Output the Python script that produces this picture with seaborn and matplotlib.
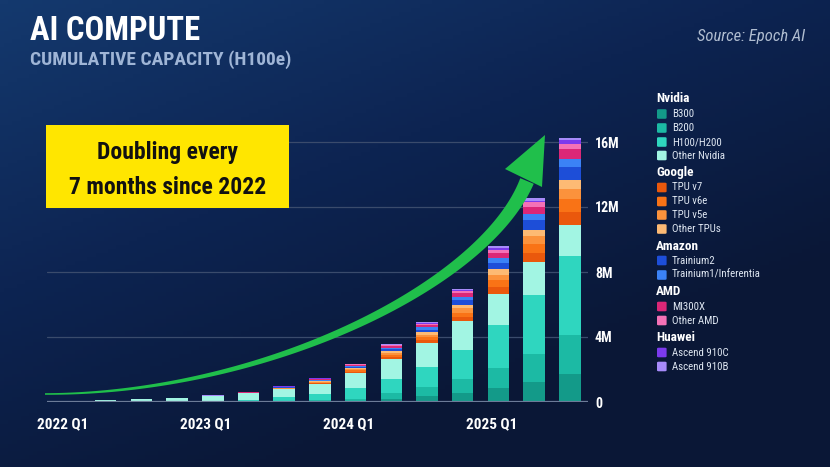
import numpy as np
import pandas as pd
import matplotlib
matplotlib.use("Agg")
import matplotlib.pyplot as plt
from matplotlib.patches import Polygon, Rectangle, FancyBboxPatch
from matplotlib.colors import LinearSegmentedColormap
import seaborn as sns

# ---- data (millions of H100-equivalents, cumulative) ----
quarters = ["2022 Q1", "2022 Q2", "2022 Q3", "2022 Q4",
            "2023 Q1", "2023 Q2", "2023 Q3", "2023 Q4",
            "2024 Q1", "2024 Q2", "2024 Q3", "2024 Q4",
            "2025 Q1", "2025 Q2", "2025 Q3"]
tick_labels = ["2022 Q1", "2023 Q1", "2024 Q1", "2025 Q1"]

b300 = [0, 0, 0, 0, 0, 0.005, 0.01, 0.03, 0.08, 0.2, 0.35, 0.55, 0.88, 1.23, 1.74]
b200 = [0, 0, 0, 0, 0.005, 0.02, 0.05, 0.07, 0.13, 0.35, 0.57, 0.84, 1.21, 1.74, 2.4]
h100 = [0.005, 0.01, 0.02, 0.03, 0.05, 0.1, 0.24, 0.37, 0.66, 0.88, 1.23, 1.83, 2.63, 3.59, 4.84]
other_nvidia = [0.075, 0.115, 0.17, 0.23, 0.32, 0.4, 0.48, 0.66, 0.94, 1.21, 1.48, 1.74, 1.95, 2.05, 1.93]
tpu_v7 = [0, 0, 0, 0, 0, 0, 0.01, 0.02, 0.05, 0.12, 0.16, 0.27, 0.41, 0.55, 0.78]
tpu_v6e = [0, 0, 0, 0, 0, 0.01, 0.03, 0.04, 0.08, 0.14, 0.2, 0.27, 0.41, 0.57, 0.82]
tpu_v5e = [0, 0, 0, 0, 0.005, 0.01, 0.03, 0.04, 0.08, 0.12, 0.16, 0.29, 0.35, 0.51, 0.62]
other_tpus = [0, 0, 0.005, 0.01, 0.01, 0.02, 0.03, 0.04, 0.08, 0.1, 0.14, 0.2, 0.33, 0.37, 0.51]
trainium2 = [0, 0, 0, 0, 0, 0, 0.02, 0.05, 0.06, 0.12, 0.16, 0.27, 0.39, 0.59, 0.82]
trainium1 = [0, 0, 0, 0, 0.005, 0.01, 0.02, 0.05, 0.06, 0.08, 0.14, 0.2, 0.31, 0.37, 0.47]
mi300x = [0, 0, 0, 0, 0, 0.01, 0.02, 0.04, 0.06, 0.1, 0.16, 0.25, 0.31, 0.45, 0.62]
other_amd = [0, 0, 0, 0, 0.005, 0.005, 0.01, 0.02, 0.04, 0.06, 0.08, 0.1, 0.2, 0.27, 0.35]
ascend_910c = [0, 0, 0, 0, 0, 0.005, 0.01, 0.02, 0.02, 0.04, 0.04, 0.06, 0.08, 0.1, 0.2]
ascend_910b = [0, 0, 0, 0.005, 0.005, 0.01, 0.02, 0.02, 0.02, 0.04, 0.06, 0.1, 0.12, 0.14, 0.16]

groups = [
    ("Nvidia", ["B300", "B200", "H100/H200", "Other Nvidia"]),
    ("Google", ["TPU v7", "TPU v6e", "TPU v5e", "Other TPUs"]),
    ("Amazon", ["Trainium2", "Trainium1/Inferentia"]),
    ("AMD", ["MI300X", "Other AMD"]),
    ("Huawei", ["Ascend 910C", "Ascend 910B"]),
]

df = pd.DataFrame({
    "B300": b300, "B200": b200, "H100/H200": h100, "Other Nvidia": other_nvidia,
    "TPU v7": tpu_v7, "TPU v6e": tpu_v6e, "TPU v5e": tpu_v5e, "Other TPUs": other_tpus,
    "Trainium2": trainium2, "Trainium1/Inferentia": trainium1,
    "MI300X": mi300x, "Other AMD": other_amd,
    "Ascend 910C": ascend_910c, "Ascend 910B": ascend_910b,
}, index=quarters)

colors = {
    "B300": "#139a89", "B200": "#1cbaa4", "H100/H200": "#2fd6bf", "Other Nvidia": "#a2f5e3",
    "TPU v7": "#ea580c", "TPU v6e": "#f97316", "TPU v5e": "#fb923c", "Other TPUs": "#fdba74",
    "Trainium2": "#1d4ed8", "Trainium1/Inferentia": "#3b82f6",
    "MI300X": "#db2777", "Other AMD": "#f472b6",
    "Ascend 910C": "#7c3aed", "Ascend 910B": "#a78bfa",
}

sns.set_theme(style="dark")
plt.rcParams["font.family"] = ["Roboto Condensed", "Liberation Sans Narrow", "Roboto", "DejaVu Sans"]
plt.rcParams["font.stretch"] = "condensed"

W, H = 830, 467
fig = plt.figure(figsize=(W / 100, H / 100), dpi=100)

def fx(x):
    return x / W

def fy(y):
    return 1 - y / H

# background gradient
bg = fig.add_axes([0, 0, 1, 1])
xx, yy = np.meshgrid(np.linspace(0, 1, 200), np.linspace(0, 1, 120))
shade = np.clip(1 - (0.55 * xx + 0.8 * yy), 0, 1)
cmap = LinearSegmentedColormap.from_list("bg", ["#0a1736", "#0d2452", "#14396e"])
bg.imshow(shade, cmap=cmap, aspect="auto", extent=[0, 1, 0, 1], origin="upper")
bg.axis("off")

# main axes
ax = fig.add_axes([fx(47), fy(402), fx(588 - 47), 17 * 16.25 / H])
ax.patch.set_alpha(0)

cum = df.cumsum(axis=1)
for name in reversed(df.columns):
    sns.barplot(x=quarters, y=cum[name].values, color=colors[name], width=0.6,
                saturation=1, linewidth=0, ax=ax, zorder=3)

ax.set_xlim(-0.644, 14.51)
ax.set_ylim(0, 17)
ax.set_yticks([0, 4, 8, 12, 16])
ax.set_yticklabels(["0", "4M", "8M", "12M", "16M"], fontweight="bold", color="white", fontsize=10)
ax.yaxis.tick_right()
ax.set_xticks([0 - 0.2, 4 - 0.2, 8 - 0.2, 12 - 0.2])
ax.set_xticklabels(tick_labels, fontweight="bold", color="white", fontsize=11)
ax.tick_params(axis="both", length=0)
ax.tick_params(axis="x", pad=11)
ax.tick_params(axis="y", pad=5)
ax.set_xlabel("")
ax.set_ylabel("")
ax.grid(False)
ax.yaxis.grid(True, color="#3a4b6c", linewidth=0.9)
ax.set_axisbelow(True)
ax.axhline(0, color="#6c7b98", linewidth=1.6, zorder=4)
for s in ax.spines.values():
    s.set_visible(False)

# growth arrow (decoration)
P0, P1, P2, P3 = map(np.array, [(45, 394), (265, 394), (485, 285), (527, 181)])
t = np.linspace(0, 1, 120)[:, None]
curve = ((1 - t) ** 3) * P0 + 3 * ((1 - t) ** 2) * t * P1 + 3 * (1 - t) * t ** 2 * P2 + t ** 3 * P3
d = np.gradient(curve, axis=0)
nrm = np.column_stack([-d[:, 1], d[:, 0]])
nrm /= np.linalg.norm(nrm, axis=1)[:, None]
half = (0.8 + 6.5 * t[:, 0] ** 1.2)[:, None]
outline = np.vstack([curve + nrm * half, (curve - nrm * half)[::-1]])
green = "#20bf4b"
fig.add_artist(Polygon([(fx(a), fy(b)) for a, b in outline], closed=True,
                       transform=fig.transFigure, facecolor=green, edgecolor="none", zorder=5))
head = [(545, 135), (505, 169), (542, 187)]
fig.add_artist(Polygon([(fx(a), fy(b)) for a, b in head], closed=True,
                       transform=fig.transFigure, facecolor=green, edgecolor="none", zorder=5))

# yellow callout
fig.add_artist(Rectangle((fx(46), fy(208)), fx(243), 83 / H, transform=fig.transFigure,
                         facecolor="#ffe600", edgecolor="none", zorder=6))
fig.text(fx(167.5), fy(152), "Doubling every", ha="center", va="center",
         fontsize=17, fontweight="bold", color="#111111", zorder=7)
fig.text(fx(167.5), fy(187), "7 months since 2022", ha="center", va="center",
         fontsize=17, fontweight="bold", color="#111111", zorder=7)

# titles
fig.text(fx(30), fy(40), "AI COMPUTE", fontsize=23.5, fontweight="bold", color="white", va="baseline")
fig.text(fx(30), fy(65), "CUMULATIVE CAPACITY (H100e)", fontsize=14, fontweight="bold",
         color="#9fb5d6", va="baseline")
fig.text(fx(805), fy(41), "Source: Epoch AI", fontsize=12, style="italic", color="#b0bdd0",
         ha="right", va="baseline")

# legend
row_y = {"Nvidia": 99, "B300": 114, "B200": 128, "H100/H200": 142, "Other Nvidia": 155.5,
         "Google": 172.5, "TPU v7": 187.5, "TPU v6e": 201.5, "TPU v5e": 215, "Other TPUs": 229,
         "Amazon": 246, "Trainium2": 260.5, "Trainium1/Inferentia": 275,
         "AMD": 291.5, "MI300X": 306.5, "Other AMD": 320.5,
         "Huawei": 337.5, "Ascend 910C": 352.5, "Ascend 910B": 366.5}
for group, members in groups:
    fig.text(fx(656), fy(row_y[group]), group, fontsize=9.5, fontweight="bold",
             color="white", va="center")
    for m in members:
        y = row_y[m]
        fig.add_artist(FancyBboxPatch((fx(657), fy(y + 4.8)), fx(9.6), 9.6 / H,
                                      boxstyle="round,pad=0,rounding_size=0.002",
                                      transform=fig.transFigure, facecolor=colors[m],
                                      edgecolor="none"))
        fig.text(fx(672), fy(y), m, fontsize=7.8, color="#dfe7f2", va="center")

fig.savefig("out.png", dpi=100)
